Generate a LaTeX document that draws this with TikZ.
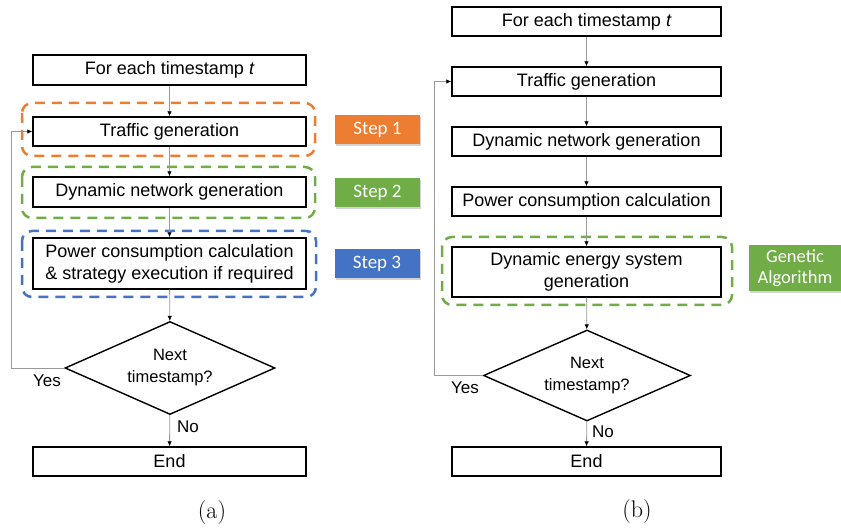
\documentclass[tikz,border=0pt]{standalone}
\usepackage{fontspec}
\newfontfamily\arial{Liberation Sans}
\newfontfamily\calibri{Carlito}
\usetikzlibrary{arrows.meta,shapes.geometric,shadows}
\definecolor{orangeS}{HTML}{ED7D31}
\definecolor{greenS}{HTML}{70AD47}
\definecolor{blueS}{HTML}{4472C4}
\begin{document}
\begin{tikzpicture}[x=1pt,y=-1pt,
  box/.style={draw=black, line width=1.4pt, fill=white, minimum height=30pt, inner sep=0pt, align=center,
    font=\arial\fontsize{18}{22}\selectfont},
  boxa/.style={box, minimum width=273pt},
  boxb/.style={box, minimum width=269pt},
  dec/.style={diamond, draw=black, line width=1.4pt, fill=white, inner sep=0pt, aspect=2.25, align=center,
    font=\arial\fontsize{16.5}{22}\selectfont},
  dbox/.style={line width=2.5pt, dash pattern=on 10pt off 7pt, rounded corners=10pt},
  tag/.style={text=white, minimum width=85pt, minimum height=29pt, inner sep=0pt, align=center,
    fill=#1,
    font=\calibri\fontsize{19}{20}\selectfont,
    drop shadow={shadow xshift=1.2pt, shadow yshift=-1.8pt, opacity=0.35}},
  conn/.style={draw=gray!80, line width=0.8pt, -{Latex[length=5pt,width=4.5pt,color=black]}},
  lab/.style={font=\arial\fontsize{17}{20}\selectfont, inner sep=0pt},
  captext/.style={font=\fontsize{24}{26}\selectfont, inner sep=0pt}]
\useasboundingbox (0,0) rectangle (841,529);

% ---------- panel (a) ----------
\draw[dbox, orangeS] (22,103) rectangle (315,156);
\draw[dbox, greenS] (22,167) rectangle (315,218);
\draw[dbox, blueS] (22,231) rectangle (316,297);

\node[boxa] (starta) at (169.5,70) {For each timestamp {\itshape t}};
\node[boxa, minimum height=29pt] (traffica) at (169.5,131.5) {Traffic generation};
\node[boxa] (dyna) at (169.5,192) {Dynamic network generation};
\node[boxa, minimum height=51pt] (powera) at (169.5,263.5) {Power consumption calculation\\\& strategy execution if required};
\node[dec, minimum width=210pt, minimum height=93pt] (deca) at (170,368) {Next\\timestamp?};
\node[boxa, minimum height=29pt] (enda) at (169.5,461.5) {End};

\node[tag=orangeS] (step1) at (377.5,129.5) {Step 1};
\node[tag=greenS] (step2) at (377.5,193) {Step 2};
\node[tag=blueS] (step3) at (377,264) {Step 3};

\coordinate (loopa) at (11,368);
\draw[conn] (starta) -- (traffica);
\draw[conn] (traffica) -- (dyna);
\draw[conn] (dyna) -- (powera);
\draw[conn] (powera) -- (deca);
\draw[conn] (deca) -- (enda);
\draw[conn] (deca.west) -- (loopa) |- (traffica.west);
\node[lab] (yesa) at (47,381) {Yes};
\node[lab] (noa) at (188,427) {No};
\node[captext] (capa) at (212,513) {(a)};

% ---------- panel (b) ----------
\draw[dbox, greenS] (442,237) rectangle (732,305);

\node[boxb, minimum height=29pt] (startb) at (586.5,21.5) {For each timestamp {\itshape t}};
\node[boxb, minimum height=29pt] (trafficb) at (586.5,81.5) {Traffic generation};
\node[boxb, minimum height=29pt] (dynb) at (586.5,141.5) {Dynamic network generation};
\node[boxb, minimum height=29pt] (powerb) at (586.5,201.5) {Power consumption calculation};
\node[boxb, minimum height=50pt] (energyb) at (586.5,272) {Dynamic energy system\\generation};
\node[dec, minimum width=207pt, minimum height=91pt] (decb) at (587,375.5) {Next\\timestamp?};
\node[boxb, minimum height=29pt] (endb) at (586.5,461.5) {End};

\node[tag=greenS, minimum width=92pt, minimum height=46pt, font=\calibri\fontsize{18.5}{21}\selectfont] (ga) at (795,268) {Genetic\\Algorithm};

\coordinate (loopb) at (434,375.5);
\draw[conn] (startb) -- (trafficb);
\draw[conn] (trafficb) -- (dynb);
\draw[conn] (dynb) -- (powerb);
\draw[conn] (powerb) -- (energyb);
\draw[conn] (energyb) -- (decb);
\draw[conn] (decb) -- (endb);
\draw[conn] (decb.west) -- (loopb) |- (trafficb.west);
\node[lab] (yesb) at (465,388) {Yes};
\node[lab] (nob) at (603,432) {No};
\node[captext] (capb) at (637,512) {(b)};
\end{tikzpicture}
\end{document}
